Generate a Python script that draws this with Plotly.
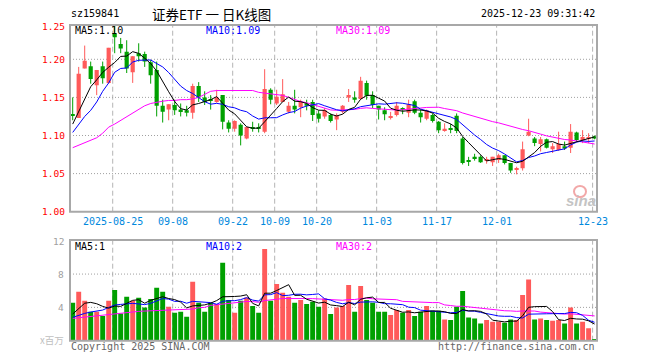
import plotly.graph_objects as go
import pandas as pd

# ---------------- data ----------------
opens = [1.128, 1.123, 1.188, 1.191, 1.166, 1.191, 1.169, 1.234, 1.220, 1.210,
         1.183, 1.208, 1.207, 1.196, 1.186, 1.139, 1.134, 1.140, 1.134, 1.133,
         1.130, 1.165, 1.150, 1.148, 1.144, 1.153, 1.117, 1.109, 1.114, 1.096,
         1.111, 1.111, 1.105, 1.160, 1.142, 1.144, 1.131, 1.139, 1.137, 1.142,
         1.144, 1.129, 1.125, 1.127, 1.121, 1.131, 1.150, 1.150, 1.148, 1.169,
         1.153, 1.139, 1.133, 1.123, 1.127, 1.136, 1.130, 1.145, 1.130, 1.122,
         1.127, 1.118, 1.107, 1.109, 1.126, 1.096, 1.068, 1.072, 1.072, 1.067,
         1.065, 1.068, 1.074, 1.064, 1.055, 1.057, 1.100, 1.096, 1.089, 1.095,
         1.082, 1.081, 1.086, 1.084, 1.104, 1.094, 1.096, 1.099]
highs = [1.150, 1.190, 1.218, 1.197, 1.186, 1.197, 1.215, 1.247, 1.228, 1.225,
         1.204, 1.221, 1.210, 1.199, 1.197, 1.147, 1.141, 1.147, 1.142, 1.139,
         1.168, 1.170, 1.158, 1.153, 1.160, 1.153, 1.120, 1.120, 1.116, 1.111,
         1.118, 1.116, 1.187, 1.162, 1.160, 1.174, 1.144, 1.160, 1.147, 1.147,
         1.147, 1.133, 1.136, 1.129, 1.129, 1.140, 1.161, 1.158, 1.177, 1.172,
         1.158, 1.139, 1.137, 1.131, 1.144, 1.137, 1.147, 1.147, 1.134, 1.134,
         1.129, 1.119, 1.116, 1.115, 1.129, 1.098, 1.072, 1.076, 1.074, 1.072,
         1.072, 1.076, 1.074, 1.064, 1.059, 1.092, 1.122, 1.098, 1.098, 1.096,
         1.090, 1.105, 1.092, 1.115, 1.105, 1.107, 1.103, 1.100]
lows = [1.120, 1.123, 1.188, 1.168, 1.153, 1.168, 1.168, 1.208, 1.208, 1.182,
        1.169, 1.197, 1.190, 1.168, 1.125, 1.117, 1.120, 1.127, 1.125, 1.125,
        1.122, 1.144, 1.140, 1.134, 1.143, 1.108, 1.104, 1.105, 1.087, 1.095,
        1.105, 1.104, 1.103, 1.141, 1.140, 1.144, 1.129, 1.129, 1.124, 1.133,
        1.119, 1.117, 1.122, 1.117, 1.107, 1.129, 1.144, 1.143, 1.147, 1.147,
        1.136, 1.121, 1.120, 1.121, 1.125, 1.128, 1.124, 1.128, 1.117, 1.120,
        1.117, 1.103, 1.105, 1.103, 1.103, 1.062, 1.060, 1.067, 1.064, 1.063,
        1.060, 1.064, 1.062, 1.051, 1.049, 1.054, 1.099, 1.086, 1.079, 1.083,
        1.077, 1.080, 1.081, 1.077, 1.092, 1.090, 1.090, 1.095]
closes = [1.126, 1.181, 1.198, 1.174, 1.186, 1.175, 1.215, 1.229, 1.214, 1.188,
          1.204, 1.204, 1.197, 1.179, 1.139, 1.131, 1.141, 1.133, 1.132, 1.130,
          1.165, 1.150, 1.144, 1.146, 1.150, 1.118, 1.109, 1.119, 1.100, 1.111,
          1.109, 1.109, 1.161, 1.147, 1.151, 1.154, 1.139, 1.134, 1.144, 1.139,
          1.127, 1.122, 1.133, 1.119, 1.127, 1.139, 1.153, 1.147, 1.172, 1.152,
          1.140, 1.134, 1.128, 1.125, 1.139, 1.133, 1.141, 1.130, 1.124, 1.133,
          1.119, 1.107, 1.109, 1.108, 1.106, 1.064, 1.066, 1.070, 1.065, 1.068,
          1.072, 1.074, 1.064, 1.054, 1.057, 1.082, 1.105, 1.090, 1.095, 1.084,
          1.086, 1.089, 1.083, 1.105, 1.094, 1.098, 1.098, 1.096]
volumes = [4.56, 5.88, 4.80, 3.48, 3.48, 2.96, 4.80, 6.08, 3.28, 5.28,
           4.80, 5.16, 4.00, 5.00, 6.36, 5.88, 4.08, 3.36, 3.48, 2.88,
           7.08, 4.56, 3.48, 4.56, 4.40, 9.36, 4.88, 3.36, 4.80, 5.20,
           4.16, 3.36, 11.0, 4.80, 6.80, 5.76, 5.28, 4.56, 4.88, 4.40,
           4.68, 4.08, 5.08, 3.20, 4.00, 4.16, 6.68, 3.48, 6.56, 4.88,
           4.56, 3.48, 3.48, 3.08, 3.68, 3.36, 3.68, 2.96, 3.48, 4.16,
           3.60, 3.60, 2.56, 2.48, 4.08, 5.96, 2.80, 2.68, 2.08, 2.48,
           2.28, 2.28, 2.16, 2.56, 2.48, 5.48, 7.36, 2.56, 2.68, 2.48,
           2.40, 2.48, 2.08, 4.00, 2.08, 2.28, 1.48, 0.16]

# moving-average values before enough visible history exists
ma5_head = [1.115, 1.131, 1.149, 1.164]
ma10_head = [1.104, 1.115, 1.125, 1.133, 1.144, 1.158, 1.169, 1.183, 1.188]
ma30_head = [1.084, 1.087, 1.090, 1.094, 1.097, 1.103, 1.111, 1.115, 1.120, 1.125,
             1.129, 1.134, 1.139, 1.142, 1.144, 1.145, 1.146, 1.146, 1.147, 1.147,
             1.148, 1.150, 1.154, 1.158, 1.159, 1.159, 1.159, 1.159, 1.159]
vma5_head = [3.20, 3.90, 4.50, 4.60]
vma10_head = [2.80, 3.08, 3.28, 3.44, 3.52, 3.68, 4.00, 4.28, 4.36]
vma30_head = [2.68, 2.76, 2.88, 2.96, 3.00, 3.04, 3.12, 3.20, 3.28, 3.36,
              3.48, 3.52, 3.56, 3.60, 3.64, 3.68, 3.68, 3.68, 3.72, 3.76,
              3.80, 3.96, 4.00, 4.24, 4.32, 4.44, 4.56, 4.64, 4.68]

tick_labels = ["2025-08-25", "09-08", "09-22", "10-09", "10-20",
               "11-03", "11-17", "12-01", "12-23"]
tick_index = [7, 17, 27, 34, 41, 51, 61, 71, 87]
y_labels = ["1.25", "1.20", "1.15", "1.10", "1.05", "1.00"]
y_label_vals = [1.2424, 1.20, 1.15, 1.10, 1.05, 1.00]
vol_labels = ["12", "8", "4"]
vol_label_vals = [11.95, 8, 4]

# ---------------- helpers ----------------
W, H = 660, 360
L, R = 70, 597
MT, MB = 25, 211.7
VT, VB = 240, 340.7
n = len(closes)
idx = list(range(n))
RED = "#FF5A5A"
GREEN = "#00A000"
MONO = "DejaVu Sans Mono"


def ma(values, win, head):
    s = pd.Series(values).rolling(win).mean().tolist()
    s[:len(head)] = head
    return s


ma5, ma10, ma30 = ma(closes, 5, ma5_head), ma(closes, 10, ma10_head), ma(closes, 30, ma30_head)
vma5, vma10, vma30 = ma(volumes, 5, vma5_head), ma(volumes, 10, vma10_head), ma(volumes, 30, vma30_head)

up = [c >= o for o, c in zip(opens, closes)]
colors = [RED if u else GREEN for u in up]

fig = go.Figure()

# wicks
for flag, col in ((True, RED), (False, GREEN)):
    xs, ys = [], []
    for i in idx:
        if up[i] == flag:
            xs += [i, i, None]
            ys += [lows[i], highs[i], None]
    fig.add_trace(go.Scatter(x=xs, y=ys, mode="lines", line=dict(color=col, width=1),
                             hoverinfo="skip", xaxis="x", yaxis="y"))

# bodies
base = [min(o, c) for o, c in zip(opens, closes)]
hgt = [max(abs(c - o), 0.0014) for o, c in zip(opens, closes)]
fig.add_trace(go.Bar(x=idx, y=hgt, base=base, marker=dict(color=colors, line=dict(width=0)),
                     width=0.7, xaxis="x", yaxis="y", hoverinfo="skip"))

for s, col in ((ma30, "#FF00FF"), (ma10, "#0000FF"), (ma5, "#000000")):
    fig.add_trace(go.Scatter(x=idx, y=s, mode="lines", line=dict(color=col, width=1),
                             xaxis="x", yaxis="y", hoverinfo="skip"))

# volume
fig.add_trace(go.Bar(x=idx, y=volumes, marker=dict(color=colors, line=dict(width=0)),
                     width=0.82, xaxis="x2", yaxis="y2", hoverinfo="skip"))
for s, col in ((vma30, "#FF00FF"), (vma10, "#0000FF"), (vma5, "#000000")):
    fig.add_trace(go.Scatter(x=idx, y=s, mode="lines", line=dict(color=col, width=1),
                             xaxis="x2", yaxis="y2", hoverinfo="skip"))

xr = [-0.45, 87.4]
ax = dict(range=xr, showticklabels=False, showgrid=False, zeroline=False,
          showline=False, domain=[L / W, R / W], fixedrange=True)
fig.update_layout(
    width=W, height=H, margin=dict(l=0, r=0, t=0, b=0),
    paper_bgcolor="white", plot_bgcolor="white", showlegend=False, barmode="overlay",
    xaxis=dict(ax, anchor="y"),
    xaxis2=dict(ax, anchor="y2"),
    yaxis=dict(range=[1.0, 1.245], domain=[1 - MB / H, 1 - MT / H], showticklabels=False,
               showgrid=False, zeroline=False, anchor="x"),
    yaxis2=dict(range=[0, 12.09], domain=[1 - VB / H, 1 - VT / H], showticklabels=False,
                showgrid=False, zeroline=False, anchor="x2"),
)

shapes = []
grid_gray = "#B4B4B4"
for k in tick_index:
    for yr in ("y domain", "y2 domain"):
        shapes.append(dict(type="line", xref="x" if yr == "y domain" else "x2", yref=yr,
                           x0=k - 0.33, x1=k - 0.33, y0=0, y1=1,
                           line=dict(color=grid_gray, width=1, dash="5px,3px"), layer="below"))
for v in y_label_vals[1:-1]:
    shapes.append(dict(type="line", xref="x domain", yref="y", x0=0, x1=1, y0=v, y1=v,
                       line=dict(color="#A0A0A0", width=1, dash="1px,2px"), layer="below"))
for v in (8, 4):
    shapes.append(dict(type="line", xref="x2 domain", yref="y2", x0=0, x1=1, y0=v, y1=v,
                       line=dict(color="#A0A0A0", width=1, dash="1px,2px"), layer="below"))
for t, b in ((MT, MB), (VT, VB)):
    shapes.append(dict(type="rect", xref="paper", yref="paper", x0=L / W, x1=R / W,
                       y0=1 - b / H, y1=1 - t / H, line=dict(color="#A8A8A8", width=2)))

ann = []


def txt(text, x, y, size=10, color="#000", xanchor="left", family=MONO, xref="paper",
        yref="paper", yanchor="middle", **kw):
    ann.append(dict(text=text, x=x, y=y, xref=xref, yref=yref, showarrow=False,
                    xanchor=xanchor, yanchor=yanchor,
                    font=dict(size=size, color=color, family=family), **kw))


def py(pix):
    return 1 - pix / H


txt("sz159841", 69 / W, py(14), size=10)
txt("证券ETF 一 日K线图", 150 / W, py(14), size=13.5, family="Noto Sans CJK SC")
txt("2025-12-23 09:31:42", 597 / W, py(14), size=10, xanchor="right")

txt("MA5:1.10", 73 / W, py(30), color="#000000")
txt("MA10:1.09", 204 / W, py(30), color="#0000FF")
txt("MA30:1.09", 334 / W, py(30), color="#FF00FF")
txt("MA5:1", 73 / W, py(246), color="#000000")
txt("MA10:2", 204 / W, py(246), color="#0000FF")
txt("MA30:2", 334 / W, py(246), color="#FF00FF")

for lab, v in zip(y_labels, y_label_vals):
    txt(lab, 66.5 / W, v, yref="y", size=9.5, color="#FF0000", xanchor="right")
for lab, v in zip(vol_labels, vol_label_vals):
    txt(lab, 66 / W, v, yref="y2", size=9.5, color="#A0A0A0", xanchor="right")
txt("x百万", 66 / W, py(340), size=9.5, color="#C0C0C0", xanchor="right",
    family="Noto Sans CJK SC")

for lab, k in zip(tick_labels, tick_index):
    txt(lab, k - 0.33, py(221), xref="x", size=10, color="#0088DD", xanchor="center")

txt("Copyright 2025 SINA.COM", 69 / W, py(346), size=10, color="#666666")
txt("http://finance.sina.com.cn", 597 / W, py(346), size=10, color="#666666", xanchor="right")

# sina watermark
txt("<b><i>sina</i></b>", 581 / W, py(200), size=15, color="#C4C4C4", xanchor="center",
    family="Arial, Liberation Sans")
shapes.append(dict(type="circle", xref="paper", yref="paper", x0=574 / W, x1=586 / W,
                   y0=py(197), y1=py(186), line=dict(color="#F2A8A8", width=2),
                   fillcolor="rgba(0,0,0,0)"))
fig.update_layout(shapes=shapes, annotations=ann)

fig.write_html("out.html", config={"displayModeBar": False},
               post_script="document.body.style.margin='0';document.body.style.padding='0';")
